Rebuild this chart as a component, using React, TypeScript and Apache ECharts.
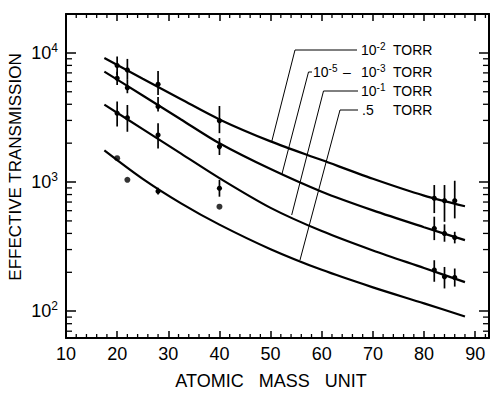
import React, { useEffect, useRef } from 'react';
import * as echarts from 'echarts';

// ---- data ----
const curveX = [17.5, 25, 32.5, 40, 50, 60, 70, 80, 88];
const curveTorr2 = [9120, 6300, 4375, 3055, 2065, 1480, 1060, 785, 650];
const curveTorr5to3 = [7160, 4680, 3050, 1995, 1259, 841, 603, 447, 355];
const curveTorr1 = [3980, 2570, 1660, 1072, 631, 417, 295, 216, 168];
const curveTorrHalf = [1760, 1059, 684, 468, 302, 209, 153, 115, 91];

// [x, centre, low, high]
const errTorr2 = [
  [20, 7980, 6750, 9360], [22, 7380, 6180, 8980], [28, 5710, 4720, 7250], [40, 2985, 2390, 3880],
  [82, 748, 575, 948], [84, 717, 492, 948], [86, 717, 523, 1023],
];
const errTorr5to3 = [
  [20, 6370, 5650, 7130], [22, 5380, 4870, 6180], [28, 3840, 3510, 4560], [40, 1880, 1620, 2190],
  [82, 437, 355, 539], [84, 400, 345, 470], [86, 372, 335, 412],
];
const errTorr1 = [
  [20, 3410, 2690, 4200], [22, 3150, 2450, 3950], [28, 2310, 1820, 2850], [40, 894, 770, 1040],
  [82, 208, 169, 248], [84, 185, 150, 220], [86, 182, 155, 214],
];
const errTorrHalf = [[28, 850, 800, 905]];
const dotsTorrHalf = [[20, 1530], [22, 1040], [40, 644]];

const X_MIN = 10;
const X_MAX = 92.7;
const Y_MIN = 62;
const Y_MAX = 20000;
const xMinorTicks = [12, 14, 16, 18, 22, 24, 26, 28, 32, 34, 36, 38, 42, 44, 46, 48, 52, 54, 56, 58,
  62, 64, 66, 68, 72, 74, 76, 78, 82, 84, 86, 88, 92];
const yMinorTicks = [70, 80, 90, 200, 300, 400, 500, 600, 700, 800, 900,
  2000, 3000, 4000, 5000, 6000, 7000, 8000, 9000];

const FONT = 'Liberation Sans, Arial, sans-serif';

export default function App() {
  const ref = useRef<HTMLDivElement>(null);
  useEffect(() => {
    const chart = echarts.init(ref.current!, null, { renderer: 'svg' });

    const axisLine = { show: true, lineStyle: { color: '#000', width: 2 } };
    const majorTickX = { show: true, inside: true, length: 7, lineStyle: { color: '#000', width: 1.5 } };
    const majorTickY = { show: true, inside: true, length: 10, lineStyle: { color: '#000', width: 1.5 } };

    const errorSeries = (data: number[][]) => ({
      type: 'custom',
      xAxisIndex: 0,
      yAxisIndex: 0,
      silent: true,
      data,
      encode: { x: 0, y: 1 },
      renderItem: (params: any, api: any) => {
        const x = api.value(0);
        const c = api.coord([x, api.value(1)]);
        const lo = api.coord([x, api.value(2)]);
        const hi = api.coord([x, api.value(3)]);
        return {
          type: 'group',
          children: [
            { type: 'line', shape: { x1: c[0], y1: lo[1], x2: c[0], y2: hi[1] }, style: { stroke: '#000', lineWidth: 1.7 } },
            { type: 'circle', shape: { cx: c[0], cy: c[1], r: 2.6 }, style: { fill: '#000' } },
          ],
        };
      },
    });

    const lineSeries = (vals: number[]) => ({
      type: 'line',
      xAxisIndex: 0,
      yAxisIndex: 0,
      data: curveX.map((x, i) => [x, vals[i]]),
      smooth: 0.3,
      showSymbol: false,
      silent: true,
      lineStyle: { color: '#000', width: 2.2 },
    });

    const supRich = {
      b: { fontSize: 14, lineHeight: 18, fontFamily: FONT, color: '#000' },
      s: { fontSize: 10, lineHeight: 10, verticalAlign: 'top', fontFamily: FONT, color: '#000' },
    };
    const txt = (x: number, y: number, text: string) => ({
      type: 'text',
      x,
      y,
      silent: true,
      style: { text, rich: supRich, align: 'left', verticalAlign: 'middle', fill: '#000', fontFamily: FONT, fontSize: 14 },
    });
    const leader = (pts: number[][]) => ({
      type: 'polyline',
      silent: true,
      shape: { points: pts },
      style: { stroke: '#000', lineWidth: 1, fill: null },
    });

    const option: any = {
      animation: false,
      backgroundColor: '#fff',
      grid: { left: 66, right: 3, top: 14, bottom: 55 },
      xAxis: [
        {
          type: 'value', min: X_MIN, max: X_MAX, interval: 10, position: 'bottom',
          axisLine, axisTick: majorTickX, splitLine: { show: false },
          axisLabel: { margin: 7, fontSize: 18, color: '#000', fontFamily: FONT, showMaxLabel: false },
        },
        {
          type: 'value', min: X_MIN, max: X_MAX, interval: 10, position: 'top',
          axisLine, axisTick: majorTickX, splitLine: { show: false }, axisLabel: { show: false },
        },
      ],
      yAxis: [
        {
          type: 'log', logBase: 10, min: Y_MIN, max: Y_MAX, position: 'left',
          axisLine, axisTick: majorTickY, splitLine: { show: false },
          axisLabel: {
            margin: 8, color: '#000', showMinLabel: false, showMaxLabel: false,
            formatter: (v: number) => '{b|10}{s|' + Math.round(Math.log10(v)) + '}',
            rich: {
              b: { fontSize: 18, lineHeight: 22, fontFamily: FONT, color: '#000' },
              s: { fontSize: 12, lineHeight: 10, verticalAlign: 'top', fontFamily: FONT, color: '#000' },
            },
          },
        },
        {
          type: 'log', logBase: 10, min: Y_MIN, max: Y_MAX, position: 'right',
          axisLine, axisTick: majorTickY, splitLine: { show: false }, axisLabel: { show: false },
        },
      ],
      series: [
        {
          type: 'custom', xAxisIndex: 0, yAxisIndex: 0, silent: true,
          data: xMinorTicks.map((v) => [v, Y_MIN]),
          encode: { x: 0, y: 1 },
          renderItem: (params: any, api: any) => {
            const p = api.coord([api.value(0), Y_MIN]);
            const cs = params.coordSys;
            return {
              type: 'group',
              children: [
                { type: 'line', shape: { x1: p[0], y1: cs.y + cs.height, x2: p[0], y2: cs.y + cs.height - 4 }, style: { stroke: '#000', lineWidth: 1.3 } },
                { type: 'line', shape: { x1: p[0], y1: cs.y, x2: p[0], y2: cs.y + 4 }, style: { stroke: '#000', lineWidth: 1.3 } },
              ],
            };
          },
        },
        {
          type: 'custom', xAxisIndex: 0, yAxisIndex: 0, silent: true,
          data: yMinorTicks.map((v) => [X_MIN, v]),
          encode: { x: 0, y: 1 },
          renderItem: (params: any, api: any) => {
            const p = api.coord([X_MIN, api.value(1)]);
            const cs = params.coordSys;
            return {
              type: 'group',
              children: [
                { type: 'line', shape: { x1: cs.x, y1: p[1], x2: cs.x + 6, y2: p[1] }, style: { stroke: '#000', lineWidth: 1.3 } },
                { type: 'line', shape: { x1: cs.x + cs.width, y1: p[1], x2: cs.x + cs.width - 6, y2: p[1] }, style: { stroke: '#000', lineWidth: 1.3 } },
              ],
            };
          },
        },
        lineSeries(curveTorr2),
        lineSeries(curveTorr5to3),
        lineSeries(curveTorr1),
        lineSeries(curveTorrHalf),
        errorSeries(errTorr2),
        errorSeries(errTorr5to3),
        errorSeries(errTorr1),
        errorSeries(errTorrHalf),
        {
          type: 'scatter', xAxisIndex: 0, yAxisIndex: 0, silent: true,
          data: dotsTorrHalf, symbol: 'circle', symbolSize: 6,
          itemStyle: { color: '#000' },
        },
      ],
      graphic: [
        leader([[357, 50], [295, 50], [271.7, 141.7]]),
        leader([[312, 72], [308.5, 72], [281.7, 175]]),
        leader([[358, 91], [323.5, 91], [291.7, 215]]),
        leader([[358, 110], [340, 110], [300, 260]]),
        txt(361, 50, '{b|10}{s|-2}'),
        txt(393, 50, '{b|TORR}'),
        txt(313, 72, '{b|10}{s|-5}'),
        txt(343, 72, '{b|–}'),
        txt(361, 72, '{b|10}{s|-3}'),
        txt(393, 72, '{b|TORR}'),
        txt(361, 91, '{b|10}{s|-1}'),
        txt(393, 91, '{b|TORR}'),
        txt(362, 110, '{b|.5}'),
        txt(393, 110, '{b|TORR}'),
        {
          type: 'text', x: 271, y: 381, silent: true,
          style: { text: 'ATOMIC   MASS   UNIT', fontSize: 18, fontFamily: FONT, fill: '#000', align: 'center', verticalAlign: 'middle' },
        },
        {
          type: 'text', x: 15, y: 167, rotation: Math.PI / 2, silent: true,
          style: { text: 'EFFECTIVE TRANSMISSION', fontSize: 17, fontFamily: FONT, fill: '#000', align: 'center', verticalAlign: 'middle' },
        },
      ],
    };

    chart.setOption(option);
    return () => chart.dispose();
  }, []);
  return (
    <div
      ref={ref}
      style={{ position: 'absolute', left: 0, top: 0, width: 492, height: 393, background: '#fff' }}
    />
  );
}
